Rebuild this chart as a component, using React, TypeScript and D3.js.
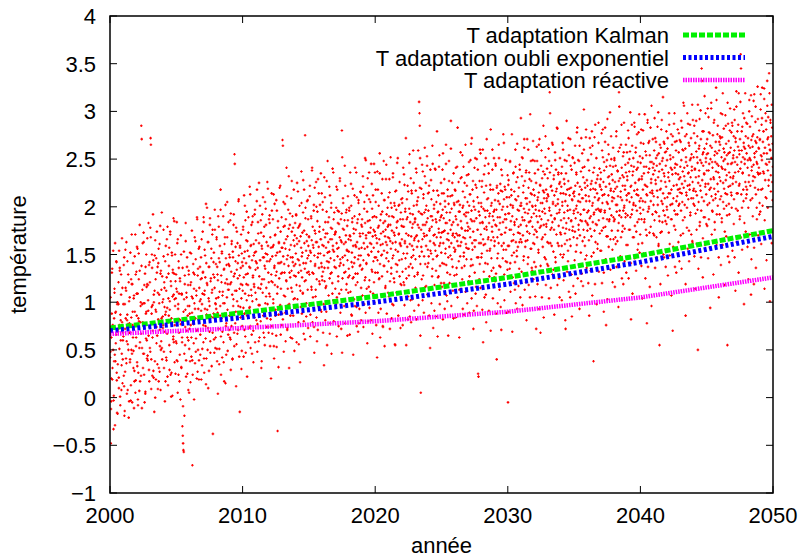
import React from 'react';
import * as d3 from 'd3';

// Temperature readings, one string per year starting in 2000.
// Each reading is encoded as three digits: round((T + 1) * 100).
const FIRST_YEAR = 2000;
const yearlyReadings: string[] = [
  '171 148 052 096 120 188 235 131 176 150 067 102 183 210 145 262 138 190 166 242 118 084 200 135 172 198 121 254 176 233 101 187 160 229 108 146 179 215 140 168',
  '164 239 112 081 198 127 255 183 212 136 159 181 243 108 177 150 221 096 178 205 140 168 097 224 150 271 146 219 190 163 131 204 089 117 248 176 105 229 154 232',
  '186 258 133 209 092 126 251 180 107 233 158 179 200 123 385 371 152 198 262 131 199 273 146 218 095 178 104 237 162 190 216 141 267 144 218 191 165 239 117 242',
  '152 278 372 365 140 188 250 123 197 170 244 121 200 085 212 138 265 192 119 246 174 231 165 237 109 182 256 131 208 127 154 280 108 233 159 183 152 227 200 173',
  '203 276 148 221 195 169 243 117 190 212 139 266 194 122 250 179 230 186 257 129 201 274 148 222 101 126 252 179 206 234 161 288 158 230 203 176 250 125 204 229',
  '157 284 211 138 266 193 124 236 209 182 145 222 098 177 250 131 208 163 070 060 052 045 043 203 081 228 155 192 264 139 210 170 247 125 186 218 160 233 105 196',
  '172 138 218 176 251 143 206 189 029 124 178 231 157 214 199 268 136 183 245 162 207 120 289 171 228 150 193 256 139 215 184 237 166 203 247 119 225 198 151 274',
  '232 176 289 141 208 255 193 226 162 114 241 187 299 218 150 173 263 204 128 237 196 281 159 222 185 246 133 210 271 168 062 229 188 252 147 215 276 199 163 240',
  '204 268 151 237 189 223 290 172 246 135 211 259 196 318 164 228 183 251 142 207 276 199 158 234 117 261 188 220 302 175 145 239 205 268 192 219 166 284 213 250',
  '186 247 219 161 293 232 175 264 208 141 253 196 281 227 168 355 345 212 243 190 278 156 234 201 262 225 171 306 249 188 214 085 257 195 236 271 204 149 242 218',
  '238 279 194 226 312 171 253 209 286 147 241 219 295 186 264 230 158 273 207 248 194 321 236 175 259 213 281 166 244 201 290 228 137 261 219 184 252 297 210 243',
  '265 203 241 318 177 236 284 215 159 262 227 197 301 244 180 273 219 138 256 292 210 247 186 269 224 163 238 305 199 251 281 215 174 243 326 198 259 231 168 287',
  '243 291 206 268 182 257 229 314 175 248 221 287 199 260 154 236 303 218 271 192 249 165 232 296 209 065 278 241 187 262 225 320 253 197 274 214 242 289 176 231',
  '370 364 248 279 207 262 231 303 189 256 287 223 341 245 171 269 214 297 238 332 198 255 281 226 163 247 309 233 274 211 290 242 186 265 318 228 259 204 283 240',
  '251 292 218 267 325 203 245 278 231 156 264 301 239 282 212 195 257 337 248 226 273 209 294 241 180 318 262 235 375 288 223 254 199 271 306 246 213 287 259 232',
  '268 229 311 254 187 243 290 216 265 338 231 279 205 257 296 174 249 320 238 272 213 263 300 224 159 285 247 329 196 258 236 274 219 302 251 192 266 241 314 227',
  '260 305 232 276 198 249 331 222 268 284 215 257 190 295 243 272 348 236 263 207 289 253 225 312 178 246 278 304 231 266 220 340 259 202 287 253 294 237 271 214',
  '274 236 299 262 205 318 248 283 227 257 295 209 268 330 245 241 287 172 263 380 352 225 277 304 239 261 196 286 249 322 232 270 213 297 255 280 244 311 226 266',
  '253 296 228 270 336 211 265 301 242 186 284 237 319 259 226 272 203 290 247 341 230 276 258 195 310 263 221 287 245 304 178 256 292 238 269 316 249 215 281 234',
  '287 235 272 321 244 262 198 305 256 283 226 349 267 241 214 295 258 330 180 273 249 308 223 286 262 211 278 345 253 234 298 167 269 312 243 257 221 290 274 336',
  '270 318 247 289 205 262 337 231 278 253 301 224 266 356 240 286 193 272 249 314 227 295 261 174 283 348 254 238 307 269 215 276 329 246 292 260 232 299 268 310',
  '243 290 267 315 222 281 352 256 236 299 275 198 262 331 249 289 225 304 270 156 316 263 240 297 278 232 346 285 253 210 301 272 244 326 261 287 219 259 308 280',
  '266 304 232 287 341 251 279 218 323 264 295 246 372 272 225 308 258 289 182 316 270 237 298 355 261 284 202 330 269 247 314 278 236 292 359 255 301 265 227 284',
  '288 245 317 269 336 302 258 229 281 310 264 295 410 398 385 351 240 105 276 319 253 292 266 337 228 309 272 248 294 362 281 216 325 259 301 270 343 237 288 314',
  '296 248 322 275 213 264 339 290 251 308 279 227 364 286 245 317 262 298 191 271 340 254 287 233 305 268 379 249 294 226 312 277 342 259 286 238 303 268 325 252',
  '273 314 241 297 356 262 288 220 329 275 306 251 283 365 239 294 266 201 318 272 247 303 348 258 286 229 311 276 390 262 298 245 325 270 212 284 335 257 302 268',
  '318 255 290 341 272 236 305 264 383 281 259 326 295 213 270 302 248 357 285 263 331 277 224 299 316 268 342 252 292 238 310 275 365 261 294 245 322 283 305 256',
  '279 334 256 301 227 313 268 349 287 245 296 372 262 318 239 274 306 191 285 341 258 297 323 265 216 288 350 247 310 276 125 122 295 262 327 240 283 356 271 304',
  '300 251 327 284 360 266 298 232 315 277 343 261 289 208 322 279 371 254 296 240 309 268 335 283 227 293 256 318 381 265 246 304 274 339 290 318 236 286 351 259',
  '264 307 281 343 230 297 140 322 268 289 251 314 365 276 238 303 283 324 195 271 339 259 297 316 246 284 376 262 308 229 321 273 292 349 255 287 310 242 300 333',
  '095 293 328 259 310 276 347 241 302 285 318 264 376 290 226 299 335 271 252 316 281 213 308 342 263 326 287 248 366 297 258 311 279 320 235 344 272 301 266 393',
  '301 263 332 289 351 270 315 244 298 362 286 327 258 309 221 338 280 303 371 265 293 247 320 284 336 272 305 397 256 314 327 289 236 301 279 349 262 318 293 242',
  '312 348 276 301 237 325 290 363 268 307 284 339 252 315 296 371 278 323 168 304 343 287 266 330 295 258 317 385 281 309 298 334 271 352 245 318 279 306 340 263',
  '330 286 311 262 348 299 420 398 276 321 291 343 259 317 284 365 303 234 329 276 312 288 357 247 301 339 271 319 293 382 262 308 336 280 225 324 297 351 273 314',
  '286 321 259 342 301 367 278 314 250 329 294 349 272 306 172 335 283 390 265 318 301 243 327 288 354 276 312 297 371 259 320 286 339 185 307 352 279 314 268 296',
  '311 346 274 322 288 253 336 301 378 267 325 294 349 281 239 313 364 270 305 292 337 222 318 285 356 264 309 331 276 402 297 342 259 320 285 373 306 249 328 294',
  '322 281 349 296 265 338 306 372 277 318 290 355 248 327 301 364 284 319 138 292 341 275 310 386 263 325 297 351 281 314 256 333 298 367 286 309 340 272 321 295',
  '336 297 318 275 359 304 381 288 326 190 347 313 296 368 279 321 176 342 305 287 392 269 331 312 355 285 324 298 343 266 317 374 291 334 306 255 328 362 289 316',
  '309 351 287 326 268 343 302 379 295 321 264 337 311 358 283 420 405 296 330 248 316 365 289 341 307 274 322 353 296 331 388 301 277 318 344 293 336 260 312 357',
  '328 291 346 314 372 276 337 305 358 289 321 182 343 310 386 297 333 268 351 304 342 317 384 280 325 301 362 274 339 296 318 255 347 312 378 287 329 306 353 271',
  '346 309 381 287 332 262 351 318 297 366 335 284 397 323 305 358 276 342 313 178 321 388 295 336 367 298 340 273 354 315 383 306 329 196 347 317 292 371 334 302',
  '311 359 286 338 372 295 324 351 268 343 317 384 302 331 259 356 290 155 345 318 273 362 327 306 391 339 284 351 314 296 368 247 332 309 357 285 343 321 379 300',
  '349 310 372 289 336 314 398 327 261 354 302 341 376 318 287 365 334 170 352 309 322 387 296 341 368 276 335 359 306 323 344 292 381 318 263 357 329 303 370 315',
  '331 368 296 349 314 383 305 337 272 359 320 406 341 289 327 361 186 352 315 376 299 343 322 387 308 336 275 364 318 349 291 331 372 309 355 342 264 326 391 317',
  '352 319 385 301 340 367 293 331 358 276 312 374 346 150 325 305 361 338 392 284 349 317 371 296 445 432 328 355 267 343 379 306 334 361 289 321 398 347 313 366',
  '338 371 302 356 324 394 287 345 318 377 194 350 329 403 311 362 296 341 375 307 331 388 319 354 276 347 309 368 337 412 292 356 324 385 316 343 205 359 331 374',
  '365 327 398 311 352 288 373 340 419 305 348 382 319 357 274 339 396 328 366 301 354 313 155 345 387 321 369 336 292 357 403 331 362 315 378 299 346 385 324 351',
  '332 374 308 359 391 347 212 368 326 405 314 352 379 296 363 337 419 322 355 287 371 340 460 445 313 359 299 384 336 352 318 367 198 393 345 361 326 374 309 388',
  '356 318 387 341 372 299 364 333 412 351 384 322 349 208 370 338 395 309 363 327 376 344 219 418 352 331 369 405 313 358 347 287 373 336 392 318 362 341 380 304',
  '371 335 402 354 318 386 349 425 301 368 337 379 356 413 214 362 328 398 345 381 309 356 432 371 338 394 322 365 347 419 201 359 388 333 374 351 407 326 366 342',
];

// Second station, same encoding, one string per year from 2000.
const yearlyReadingsB: string[] = [
  '142 205 088 163 231 119 176 254 097 138 214 071 189 157 243 126 198 083 169 221 110 151 236 092 181 208 134 267 115 160',
  '198 123 247 086 172 215 141 263 104 187 156 229 079 201 168 137 252 113 184 219 095 176 241 149 207 128 190 271 118 163',
  '209 137 256 098 183 224 152 281 117 196 167 238 089 213 179 146 263 124 199 230 106 188 250 160 219 139 202 283 129 174',
  '221 148 268 109 195 236 163 292 128 208 178 249 100 224 190 157 274 135 210 241 117 199 261 171 230 150 213 294 140 185',
  '176 248 131 215 096 187 259 142 226 167 279 113 204 238 155 192 271 124 217 183 249 102 231 164 208 285 137 196 222 159',
  '214 139 262 105 198 243 168 117 225 181 270 132 209 158 236 091 190 253 146 219 174 283 122 205 237 163 196 108 229 151',
  '188 252 116 221 163 275 139 204 240 177 098 229 193 264 148 212 170 287 127 235 182 119 258 201 145 224 191 266 134 209',
  '231 158 284 126 212 249 175 303 141 220 192 263 110 237 201 169 288 147 225 256 133 213 276 184 242 161 226 297 152 198',
  '193 266 138 229 104 205 279 151 242 186 297 124 221 253 169 211 290 137 235 199 268 115 246 178 224 305 149 213 240 171',
  '238 163 286 129 221 261 187 140 247 203 292 154 230 178 258 112 212 274 167 241 196 308 143 228 259 184 219 130 251 175',
  '212 276 143 246 188 301 164 229 265 202 122 254 218 289 173 237 195 313 152 260 207 146 284 226 170 249 216 292 158 234',
  '253 181 306 148 236 272 197 325 163 244 214 286 131 259 224 190 310 168 247 279 155 235 298 206 263 183 250 319 174 221',
  '209 283 154 245 120 222 296 167 258 203 313 141 238 270 186 228 307 153 252 216 285 132 263 195 241 322 166 230 257 188',
  '257 182 305 148 240 280 206 159 266 222 311 173 249 197 277 131 231 293 186 260 215 327 162 247 278 203 238 149 270 194',
  '227 291 158 261 203 316 179 244 280 217 137 269 233 304 188 252 210 328 167 275 222 161 299 241 185 264 231 307 173 249',
  '269 197 322 164 252 288 213 341 179 260 230 302 147 275 240 206 326 184 263 295 171 251 314 222 279 199 266 335 190 237',
  '223 297 168 259 134 236 310 181 272 217 327 155 252 284 200 242 321 167 266 230 299 146 277 209 255 336 180 244 271 202',
  '273 198 321 164 256 296 222 175 282 238 327 189 265 213 293 147 247 309 202 276 231 343 178 263 294 219 254 165 286 210',
  '235 299 166 269 211 324 187 252 288 225 145 277 241 312 196 260 218 336 175 283 230 169 307 249 193 272 239 315 181 257',
  '279 207 332 174 262 298 223 351 189 270 240 312 157 285 250 216 336 194 273 305 181 261 324 232 289 209 276 345 200 247',
  '231 305 176 267 142 244 318 189 280 225 335 163 260 292 208 250 329 175 274 238 307 154 285 217 263 344 188 252 279 210',
  '281 206 329 172 264 304 230 183 290 246 335 197 273 221 301 155 255 317 210 284 239 351 186 271 302 227 262 173 294 218',
  '245 309 176 279 221 334 197 262 298 235 155 287 251 322 206 270 228 346 185 293 240 179 317 259 203 282 249 325 191 267',
  '287 215 340 182 270 306 231 359 197 278 248 320 165 293 258 224 344 202 281 313 189 269 332 240 297 217 284 353 208 255',
  '241 315 186 277 152 254 328 199 290 235 345 173 270 302 218 260 339 185 284 248 317 164 295 227 273 354 198 262 289 220',
  '291 216 339 182 274 314 240 193 300 256 345 207 283 231 311 165 265 327 220 294 249 361 196 281 312 237 272 183 304 228',
  '253 317 184 287 229 342 205 270 306 243 163 295 259 330 214 278 236 354 193 301 248 187 325 267 211 290 257 333 199 275',
  '294 222 347 189 277 313 238 366 204 285 255 327 172 300 265 231 351 209 288 320 196 276 339 247 304 224 291 360 215 262',
  '247 321 192 283 158 260 334 205 296 241 351 179 276 308 224 266 345 191 290 254 323 170 301 233 279 360 204 268 295 226',
  '297 222 345 188 280 320 246 199 306 262 351 213 289 237 317 171 271 333 226 300 255 367 202 287 318 243 278 189 310 234',
  '259 323 190 293 235 348 211 276 312 249 169 301 265 336 220 284 242 360 199 307 254 193 331 273 217 296 263 339 205 281',
  '304 232 352 197 286 322 248 371 213 294 264 336 181 309 274 240 360 218 297 329 205 285 348 256 313 233 300 369 224 271',
  '261 335 206 297 172 274 348 219 310 255 365 193 290 322 238 280 359 205 304 268 337 184 315 247 293 374 218 282 309 240',
  '313 238 361 204 296 336 262 215 322 278 367 229 305 253 333 187 287 349 242 316 271 383 218 303 334 259 294 205 326 250',
  '271 335 202 305 247 360 223 288 324 261 181 313 277 348 232 296 254 372 211 319 266 205 343 285 229 308 275 351 217 293',
  '316 244 364 209 298 334 260 383 225 306 276 348 193 321 286 252 372 230 309 341 217 297 360 268 325 245 312 381 236 283',
  '275 349 220 311 186 288 362 233 324 269 379 207 304 336 252 294 373 219 318 282 351 198 329 261 307 388 232 296 323 254',
  '329 254 377 220 312 352 278 231 338 294 383 245 321 269 349 203 303 365 258 332 287 399 234 319 350 275 310 221 342 266',
  '285 349 216 319 261 374 237 302 338 275 195 327 291 362 246 310 268 386 225 333 280 219 357 299 243 322 289 365 231 307',
  '332 260 380 225 314 350 276 399 241 322 292 364 209 337 302 268 388 246 325 357 233 313 376 284 341 261 328 397 252 299',
  '293 367 238 329 204 306 380 251 342 287 397 225 322 354 270 312 391 237 336 300 369 216 347 279 325 406 250 314 341 272',
  '345 270 393 236 328 368 294 247 354 310 399 261 337 285 365 219 319 381 274 348 303 415 250 335 366 291 326 237 358 282',
  '297 361 228 331 273 386 249 314 350 287 207 339 303 374 258 322 280 398 237 345 292 231 369 311 255 334 301 377 243 319',
  '342 270 390 235 324 360 286 409 251 332 302 374 219 347 312 278 398 256 335 367 243 323 386 294 351 271 338 407 262 309',
  '303 377 248 339 214 316 390 261 352 297 407 235 332 364 280 322 401 247 346 310 379 226 357 289 335 416 260 324 351 282',
  '355 280 403 246 338 378 304 257 364 320 409 271 347 295 375 229 329 391 284 358 313 425 260 345 376 301 336 247 368 292',
  '308 372 239 342 284 397 260 325 361 298 218 350 314 385 269 333 291 409 248 356 303 242 380 322 266 345 312 388 254 330',
  '354 282 402 247 336 372 298 421 263 344 314 386 231 359 324 290 410 268 347 379 255 335 398 306 363 283 350 419 274 321',
  '313 387 258 349 224 326 400 271 362 307 417 245 342 374 290 332 411 257 356 320 389 236 367 299 345 426 270 334 361 292',
  '370 295 418 261 353 393 319 272 379 335 424 286 362 310 390 244 344 406 299 373 328 440 275 360 391 316 351 262 383 307',
];

// Adapted temperature estimates, sampled every ten years.
const adaptYears = [2000, 2010, 2020, 2030, 2040, 2050];
const kalmanT = [0.73, 0.89, 1.06, 1.26, 1.49, 1.75];
const oubliT = [0.7, 0.84, 1.0, 1.19, 1.42, 1.69];
const reactiveT = [0.667, 0.73, 0.8, 0.9, 1.05, 1.26];

const seriesLabels = [
  'T adaptation Kalman',
  'T adaptation oubli exponentiel',
  'T adaptation réactive',
];

const xTicks = [2000, 2010, 2020, 2030, 2040, 2050];
const yTicks = [-1, -0.5, 0, 0.5, 1, 1.5, 2, 2.5, 3, 3.5, 4];

type Pt = { t: number; v: number };

function decodeReadings(rows: string[], phase: number): Pt[] {
  const pts: Pt[] = [];
  rows.forEach((row, yi) => {
    const digits = row.replace(/\s+/g, '');
    const n = Math.floor(digits.length / 3);
    for (let i = 0; i < n; i++) {
      const code = parseInt(digits.slice(i * 3, i * 3 + 3), 10);
      pts.push({ t: FIRST_YEAR + yi + (i + phase) / n, v: code / 100 - 1 });
    }
  });
  return pts;
}

const W = 804;
const H = 559;
const PL = 110;
const PR = 773;
const PT = 16;
const PB = 493;
const FONT = '"Liberation Sans", Arial, Helvetica, sans-serif';

export default function App() {
  const x = d3.scaleLinear().domain([2000, 2050]).range([PL, PR]);
  const y = d3.scaleLinear().domain([-1, 4]).range([PB, PT]);
  const points = decodeReadings(yearlyReadings, 0.5).concat(
    decodeReadings(yearlyReadingsB, 0.2)
  );

  const dotPath = points
    .map((p) => {
      const px = x(p.t);
      const py = y(p.v);
      return `M${(px - 1.3).toFixed(1)},${py.toFixed(1)}h2.6M${px.toFixed(1)},${(py - 1.3).toFixed(1)}v2.6`;
    })
    .join('');

  const line = d3
    .line<[number, number]>()
    .x((d) => x(d[0]))
    .y((d) => y(d[1]));

  const series = [
    { label: seriesLabels[0], vals: kalmanT, color: '#00f000', width: 5, dash: '6 2' },
    { label: seriesLabels[1], vals: oubliT, color: '#0000ff', width: 5, dash: '3 2.5' },
    { label: seriesLabels[2], vals: reactiveT, color: '#ff00ff', width: 4.5, dash: '1.5 1' },
  ];

  const tickLen = 7;

  return (
    <svg
      width={W}
      height={H}
      style={{ position: 'absolute', left: 0, top: 0, background: '#fff' }}
      fontFamily={FONT}
    >
      <defs>
        <clipPath id="plotArea">
          <rect x={PL} y={PT} width={PR - PL} height={PB - PT} />
        </clipPath>
      </defs>

      <g clipPath="url(#plotArea)">
        <path d={dotPath} stroke="#ff0000" strokeWidth={1.1} fill="none" />
        {series.map((s) => (
          <path
            key={s.label}
            d={line(adaptYears.map((yr, i) => [yr, s.vals[i]] as [number, number])) || ''}
            stroke={s.color}
            strokeWidth={s.width}
            strokeDasharray={s.dash}
            fill="none"
          />
        ))}
      </g>

      {/* ticks on all four sides, pointing inward */}
      <g stroke="#000" strokeWidth={1}>
        {yTicks.map((t) => (
          <g key={'y' + t}>
            <line x1={PL} x2={PL + tickLen} y1={y(t)} y2={y(t)} />
            <line x1={PR} x2={PR - tickLen} y1={y(t)} y2={y(t)} />
          </g>
        ))}
        {xTicks.map((t) => (
          <g key={'x' + t}>
            <line x1={x(t)} x2={x(t)} y1={PB} y2={PB - tickLen} />
            <line x1={x(t)} x2={x(t)} y1={PT} y2={PT + tickLen} />
          </g>
        ))}
      </g>

      <rect
        x={PL}
        y={PT}
        width={PR - PL}
        height={PB - PT}
        fill="none"
        stroke="#000"
        strokeWidth={1.5}
      />

      <g fontSize={22} fill="#000">
        {yTicks.map((t) => (
          <text key={'yl' + t} x={96} y={y(t) + 8} textAnchor="end">
            {t < 0 ? '\u2212' + Math.abs(t) : String(t)}
          </text>
        ))}
        {xTicks.map((t) => (
          <text key={'xl' + t} x={x(t)} y={523} textAnchor="middle">
            {t}
          </text>
        ))}
        <text x={(PL + PR) / 2} y={553} textAnchor="middle">
          année
        </text>
        <text
          transform={`translate(26,${(PT + PB) / 2}) rotate(-90)`}
          textAnchor="middle"
        >
          température
        </text>
      </g>

      {/* key */}
      <g fontSize={22}>
        {series.map((s, i) => {
          const ly = 35 + i * 22.5;
          return (
            <g key={'k' + s.label}>
              <text x={669} y={ly + 8} textAnchor="end" fill="#000">
                {s.label}
              </text>
              <line
                x1={683}
                x2={745}
                y1={ly}
                y2={ly}
                stroke={s.color}
                strokeWidth={s.width}
                strokeDasharray={s.dash}
              />
            </g>
          );
        })}
      </g>
    </svg>
  );
}
